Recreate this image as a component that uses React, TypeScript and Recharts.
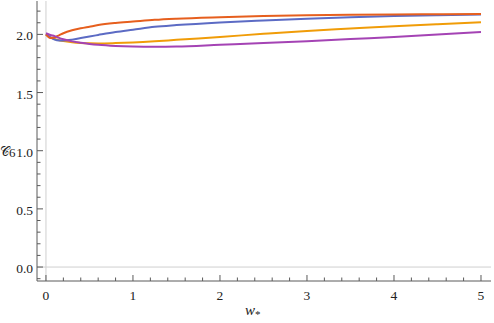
import React from "react";
import {
  LineChart,
  Line,
  XAxis,
  YAxis,
  ReferenceLine,
} from "recharts";

const wValues = [0, 0.05, 0.1, 0.15, 0.2, 0.3, 0.4, 0.5, 0.6, 0.8, 1.0, 1.25, 1.5, 2, 2.5, 3, 3.5, 4, 4.5, 5];
const redSeries = [2.0, 1.968, 1.975, 1.992, 2.01, 2.035, 2.052, 2.066, 2.08, 2.098, 2.11, 2.125, 2.135, 2.148, 2.158, 2.164, 2.168, 2.171, 2.173, 2.175];
const blueSeries = [2.0, 1.975, 1.955, 1.948, 1.948, 1.955, 1.968, 1.982, 1.995, 2.02, 2.04, 2.065, 2.08, 2.103, 2.12, 2.135, 2.148, 2.157, 2.164, 2.17];
const orangeSeries = [2.0, 1.975, 1.96, 1.95, 1.942, 1.932, 1.926, 1.923, 1.922, 1.925, 1.93, 1.94, 1.953, 1.978, 2.005, 2.03, 2.05, 2.07, 2.088, 2.105];
const purpleSeries = [2.01, 1.995, 1.985, 1.97, 1.958, 1.94, 1.928, 1.918, 1.91, 1.9, 1.895, 1.893, 1.895, 1.91, 1.925, 1.942, 1.96, 1.978, 1.998, 2.02];

const xTicks = [0, 0.2, 0.4, 0.6, 0.8, 1, 1.2, 1.4, 1.6, 1.8, 2, 2.2, 2.4, 2.6, 2.8, 3, 3.2, 3.4, 3.6, 3.8, 4, 4.2, 4.4, 4.6, 4.8, 5];
const xMajor = [0, 1, 2, 3, 4, 5];
const yTicks = [-0.1, 0, 0.1, 0.2, 0.3, 0.4, 0.5, 0.6, 0.7, 0.8, 0.9, 1, 1.1, 1.2, 1.3, 1.4, 1.5, 1.6, 1.7, 1.8, 1.9, 2, 2.1, 2.2];
const yMajor = [0, 0.5, 1, 1.5, 2];

const data = wValues.map((w, i) => ({
  w,
  red: redSeries[i],
  blue: blueSeries[i],
  orange: orangeSeries[i],
  purple: purpleSeries[i],
}));

const FRAME = "#5a5a5a";
const FONT = "Liberation Serif, serif";

const isMajor = (v: number, majors: number[]) =>
  majors.some((m) => Math.abs(m - v) < 1e-6);

const makeXTick = (side: "bottom" | "top") => (props: any) => {
  const { x, y, payload } = props;
  const v = payload.value;
  const major = isMajor(v, xMajor);
  const len = major ? 6 : 3.5;
  const dir = side === "bottom" ? -1 : 1;
  return (
    <g>
      <line x1={x} x2={x} y1={y} y2={y + dir * len} stroke={FRAME} strokeWidth={1} />
      {side === "bottom" && major && (
        <text x={x} y={y + 18.5} textAnchor="middle" style={{ fontFamily: FONT }} fontSize={13.5} fill="#222">
          {v}
        </text>
      )}
    </g>
  );
};

const makeYTick = (side: "left" | "right") => (props: any) => {
  const { x, y, payload } = props;
  const v = payload.value;
  const major = isMajor(v, yMajor);
  const len = major ? 6 : 3.5;
  const dir = side === "left" ? 1 : -1;
  return (
    <g>
      <line x1={x} x2={x + dir * len} y1={y} y2={y} stroke={FRAME} strokeWidth={1} />
      {side === "left" && major && (
        <text x={x - 4} y={y + 6} textAnchor="end" style={{ fontFamily: FONT }} fontSize={13.5} fill="#222">
          {v.toFixed(1)}
        </text>
      )}
    </g>
  );
};

export default function App() {
  const xDomain: [number, number] = [-0.103, 5.115];
  const yDomain: [number, number] = [-0.12, 2.287];
  return (
    <div style={{ position: "fixed", left: 0, top: 0, width: 494, height: 323, background: "#fff" }}>
      <LineChart width={494} height={323} data={data} margin={{ top: 1, right: 3, bottom: 0, left: 0 }}>
        <XAxis
          xAxisId="b"
          dataKey="w"
          type="number"
          domain={xDomain}
          allowDataOverflow
          ticks={xTicks}
          interval={0}
          tickSize={0}
          tickMargin={0}
          tickLine={false}
          height={42}
          stroke={FRAME}
          tick={makeXTick("bottom")}
        />
        <XAxis
          xAxisId="t"
          orientation="top"
          dataKey="w"
          type="number"
          domain={xDomain}
          allowDataOverflow
          ticks={xTicks}
          interval={0}
          tickSize={0}
          tickMargin={0}
          tickLine={false}
          height={0}
          stroke={FRAME}
          tick={makeXTick("top")}
        />
        <YAxis
          yAxisId="l"
          type="number"
          domain={yDomain}
          allowDataOverflow
          ticks={yTicks}
          interval={0}
          tickSize={0}
          tickMargin={0}
          tickLine={false}
          width={37}
          stroke={FRAME}
          tick={makeYTick("left")}
        />
        <YAxis
          yAxisId="r"
          orientation="right"
          type="number"
          domain={yDomain}
          allowDataOverflow
          ticks={yTicks}
          interval={0}
          tickSize={0}
          tickMargin={0}
          tickLine={false}
          width={0}
          stroke={FRAME}
          tick={makeYTick("right")}
        />
        <ReferenceLine xAxisId="b" yAxisId="l" x={0} stroke="#cfcfcf" strokeWidth={1} />
        <ReferenceLine xAxisId="b" yAxisId="l" y={0} stroke="#cfcfcf" strokeWidth={1} />
        <Line xAxisId="b" yAxisId="l" type="monotone" dataKey="orange" stroke="#F09C08" strokeWidth={2} dot={false} isAnimationActive={false} />
        <Line xAxisId="b" yAxisId="l" type="monotone" dataKey="blue" stroke="#5C6BC4" strokeWidth={2} dot={false} isAnimationActive={false} />
        <Line xAxisId="b" yAxisId="l" type="monotone" dataKey="red" stroke="#E65F1E" strokeWidth={2} dot={false} isAnimationActive={false} />
        <Line xAxisId="b" yAxisId="l" type="monotone" dataKey="purple" stroke="#A443B4" strokeWidth={2} dot={false} isAnimationActive={false} />
      </LineChart>
      <div style={{ position: "absolute", left: 0, top: 144, fontFamily: FONT, fontSize: 13, lineHeight: "15px", color: "#222", whiteSpace: "nowrap" }}>
        <span>𝒞</span>
        <span style={{ position: "relative", top: 1 }}>6</span>
      </div>
      <div style={{ position: "absolute", left: 245, top: 302, fontFamily: FONT, fontSize: 15, color: "#222", whiteSpace: "nowrap" }}>
        <span style={{ fontStyle: "italic" }}>w</span>
        <span style={{ fontSize: 11, position: "relative", top: 3 }}>*</span>
      </div>
    </div>
  );
}
